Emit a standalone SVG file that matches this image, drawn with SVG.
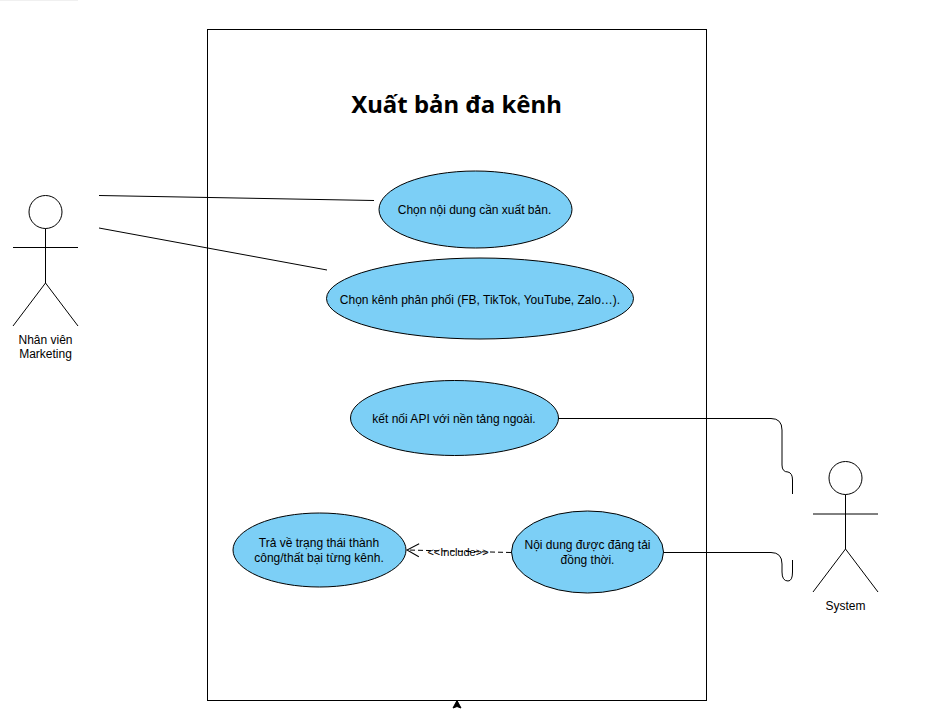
<svg xmlns="http://www.w3.org/2000/svg" width="944" height="723" viewBox="0 0 944 723">
<style>
.a{fill:none;stroke:#000;stroke-width:1}
.n{fill:#7ccff6;stroke:#000;stroke-width:1}
.t{font-family:"Liberation Sans",Arial,"Noto Sans",sans-serif;font-size:12px;fill:#000;text-anchor:middle}
.h{font-family:"Noto Sans","Open Sans",sans-serif;font-size:24px;font-weight:700;fill:#000;text-anchor:middle}
</style>
<defs>
<marker id="open" markerWidth="16" markerHeight="16" refX="14" refY="8" orient="auto" markerUnits="userSpaceOnUse"><path d="M2 1.500L14 8L2 14.500" fill="none" stroke="#000"/></marker>
</defs>
<rect width="944" height="723" fill="#fff"/>
<rect x="0" y="0" width="78" height="1" fill="#f0f0f0"/>
<g id="system-boundary">
<rect x="207.500" y="29.500" width="499" height="671" fill="#fff" stroke="#000"/>
<text class="h" x="456.500" y="113">Xuất bản đa kênh</text>
</g>
<g id="connectors">
<path class="a" d="M99 195.500L374 200.500"/>
<path class="a" d="M99 228L327 270"/>
<path class="a" d="M558 418.500H771Q782 418.500 782 430V465Q782 472 788 472Q792.500 473 792.500 480V494"/>
<path class="a" d="M664 552.500H771Q782 552.500 782 564V572Q782 581 788 581Q792.500 581 792.500 572V560"/>
<path class="a" stroke-dasharray="5 3" marker-end="url(#open)" d="M511 552.500L407 550"/>
<path d="M453 708L457 700.500L461 708L457 706.500Z" fill="#000" stroke="#000"/>
</g>
<g id="uc-chon-noi-dung">
<ellipse class="n" cx="475.500" cy="209.500" rx="96.500" ry="38.500"/>
<text class="t" x="474.500" y="214">Chọn nội dung cần xuất bản.</text>
</g>
<g id="uc-chon-kenh">
<ellipse class="n" cx="480" cy="298.500" rx="153.500" ry="40.500"/>
<text class="t" x="480" y="304">Chọn kênh phân phối (FB, TikTok, YouTube, Zalo…).</text>
</g>
<g id="uc-ket-noi-api">
<ellipse class="n" cx="454.500" cy="418" rx="104" ry="37.500"/>
<text class="t" x="454" y="423">kết nối API với nền tảng ngoài.</text>
</g>
<g id="uc-tra-ve">
<ellipse class="n" cx="319.500" cy="550" rx="86.500" ry="37"/>
<text class="t" x="319" y="547">Trả về trạng thái thành</text>
<text class="t" x="319" y="562">công/thất bại từng kênh.</text>
</g>
<g id="uc-dang-tai">
<ellipse class="n" cx="587.500" cy="552" rx="76" ry="41"/>
<text class="t" x="587.500" y="549">Nội dung được đăng tải</text>
<text class="t" x="587.500" y="564">đồng thời.</text>
</g>
<g id="label-include">
<text x="458" y="556" font-family="Liberation Sans, Arial, sans-serif" font-size="11" text-anchor="middle">&lt;&lt;Include&gt;&gt;</text>
</g>
<g id="actor-marketing">
<circle class="a" cx="45.500" cy="212" r="16.500"/>
<path class="a" d="M45.500 228.500V283M13 247.500H78M13 326L45.500 283L78 326"/>
<text class="t" x="45.500" y="344">Nhân viên</text>
<text class="t" x="45.500" y="358">Marketing</text>
</g>
<g id="actor-system">
<circle class="a" cx="845.500" cy="478" r="16.500"/>
<path class="a" d="M845.500 494.500V549M813 514H878M813 592L845.500 549L878 592"/>
<text class="t" x="845.500" y="610">System</text>
</g>
</svg>
